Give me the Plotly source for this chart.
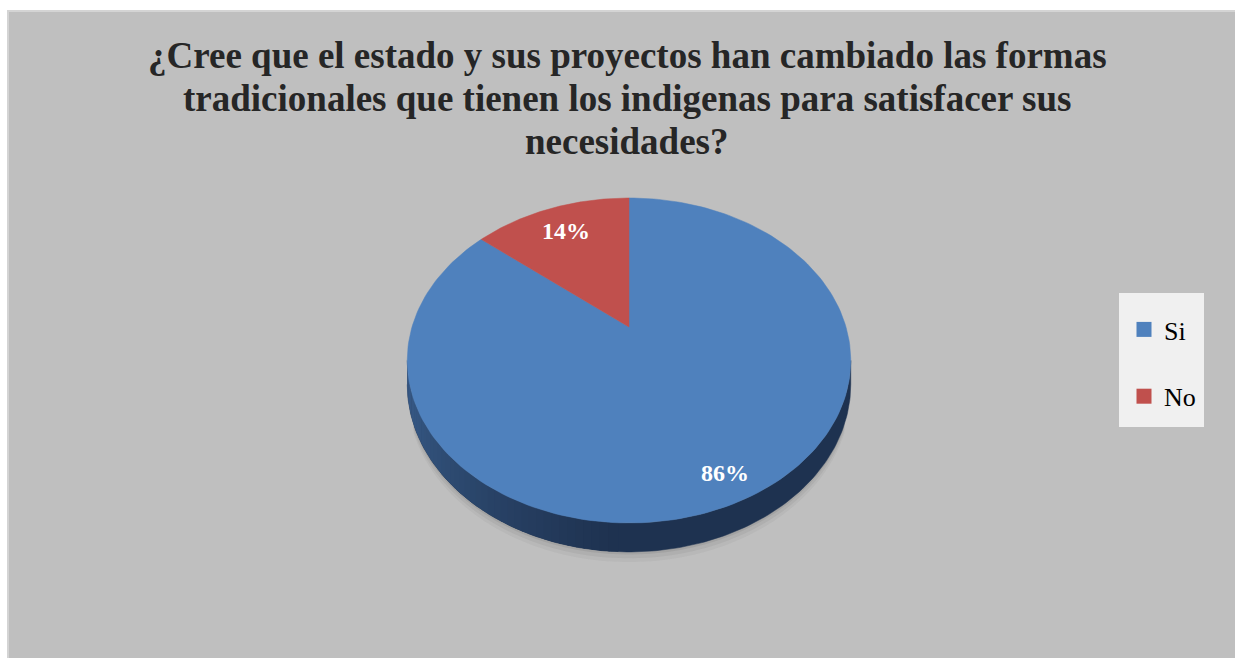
"""3D-style pie chart: ¿Cree que el estado ...?"""

import numpy as np
import plotly.graph_objects as go

# ---------------------------------------------------------------------------
# Data
# ---------------------------------------------------------------------------

LABELS = ["Si", "No"]
VALUES = [86, 14]
COLORS = ["#4f81bd", "#c0504d"]
SIDE_LIGHT = ["#3a5e8c", "#8a3a38"]
SIDE_DARK = ["#1e3250", "#5e2524"]

TITLE_LINES = [
    "¿Cree que el estado y sus proyectos han cambiado las formas",
    "tradicionales que tienen los indigenas para satisfacer sus",
    "necesidades?",
]

# ---------------------------------------------------------------------------
# Geometry (screen pixels, y grows downward)
# ---------------------------------------------------------------------------

W, H = 1235, 658
CX, CY = 629, 327  # projected centre of the pie
AX, BY = 217, 155.6  # horizontal / vertical radius scale
K = 0.206  # perspective strength
DEPTH = 23  # thickness of the pie
LABEL_R = {"Si": 0.87, "No": 0.78}
TITLE_Y = [55, 98, 141]
SERIF = "Liberation Serif, Times New Roman, serif"


def proj(phi_deg, r=1.0, dz=0.0):
    phi = np.radians(phi_deg)
    x = r * np.cos(phi)
    y = r * np.sin(phi)
    d = 1 + K * y
    return CX + AX * x / d, CY - BY * y / d + dz / d


def mix(c1, c2, t):
    a = [int(c1[i:i + 2], 16) for i in (1, 3, 5)]
    b = [int(c2[i:i + 2], 16) for i in (1, 3, 5)]
    return "rgb({},{},{})".format(*[round(a[j] + (b[j] - a[j]) * t) for j in range(3)])


fig = go.Figure()

# soft shadow under the pie front
for grow, alpha in [(8, 0.05), (5, 0.07), (2, 0.1)]:
    ang = np.linspace(205, 335, 100)
    sx, sy = proj(ang, 1.0, DEPTH + grow)
    fig.add_trace(go.Scatter(
        x=list(sx) + list(sx[::-1]), y=list(sy) + list(sy[::-1] - 40),
        fill="toself", mode="none", fillcolor=f"rgba(60,60,60,{alpha})",
        hoverinfo="skip", showlegend=False,
    ))

# slice angle ranges: start at 12 o'clock, go clockwise
total = sum(VALUES)
starts, ends = [], []
a = 90.0
for v in VALUES:
    starts.append(a)
    a -= 360 * v / total
    ends.append(a)

# side wall (visible front half between silhouette angles)
sil_l = 180 + np.degrees(np.arcsin(K))
sil_r = 360 - np.degrees(np.arcsin(K))
for i, lab in enumerate(LABELS):
    s, e = starts[i], ends[i]
    for shift in (0, 360, -360):
        lo, hi = max(e + shift, sil_l), min(s + shift, sil_r)
        if lo >= hi:
            continue
        # dark base wall
        arc = np.linspace(lo, hi, 150)
        tx, ty = proj(arc)
        bx, by = proj(arc[::-1], 1.0, DEPTH)
        fig.add_trace(go.Scatter(
            x=list(tx) + list(bx), y=list(ty) + list(by),
            fill="toself", mode="lines", fillcolor=SIDE_DARK[i],
            line=dict(color=SIDE_DARK[i], width=0.5),
            hoverinfo="skip", showlegend=False,
        ))
        # lighter gradient towards the left end
        edges = np.linspace(lo, hi, 90)
        for j in range(len(edges) - 1):
            a0, a1 = edges[j], edges[j + 1]
            t = (0.5 * (a0 + a1) - sil_l) / (sil_r - sil_l)
            if t > 0.48:
                continue
            arc = np.linspace(a0, a1 + 0.4, 4)
            tx, ty = proj(arc)
            bx, by = proj(arc[::-1], 1.0, DEPTH)
            col = mix(SIDE_LIGHT[i], SIDE_DARK[i], min(1.0, t * 2.1))
            fig.add_trace(go.Scatter(
                x=list(tx) + list(bx), y=list(ty) + list(by),
                fill="toself", mode="none", fillcolor=col,
                hoverinfo="skip", showlegend=False,
            ))

# top faces
for i, lab in enumerate(LABELS):
    arc = np.linspace(starts[i], ends[i], 200)
    ex, ey = proj(arc)
    fig.add_trace(go.Scatter(
        x=[CX] + list(ex) + [CX], y=[CY] + list(ey) + [CY],
        fill="toself", mode="lines", fillcolor=COLORS[i],
        line=dict(color=COLORS[i], width=0.5),
        name=lab, hoverinfo="name", showlegend=False,
    ))
    mid = 0.5 * (starts[i] + ends[i])
    lx, ly = proj(mid, LABEL_R[lab])
    fig.add_annotation(
        x=lx, y=ly, text=f"<b>{VALUES[i] / total:.0%}</b>", showarrow=False,
        font=dict(family=SERIF, size=24, color="white"),
    )

# title, one annotation per line
for line, ty in zip(TITLE_LINES, TITLE_Y):
    fig.add_annotation(
        x=627, y=ty, text=f"<b>{line}</b>", showarrow=False,
        font=dict(family=SERIF, size=37, color="#262626"),
    )

# legend entries
for i, lab in enumerate(LABELS):
    fig.add_trace(go.Scatter(
        x=[None], y=[None], mode="markers", name=lab, legendgroup=lab,
        marker=dict(symbol="square", size=15, color=COLORS[i]),
    ))

fig.update_layout(
    width=W,
    height=H,
    margin=dict(l=0, r=0, t=0, b=0),
    paper_bgcolor="#bfbfbf",
    plot_bgcolor="rgba(0,0,0,0)",
    xaxis=dict(range=[0, W], visible=False, fixedrange=True),
    yaxis=dict(range=[H, 0], visible=False, fixedrange=True),
    shapes=[
        # white page strip above / left of the chart area
        dict(type="rect", xref="x", yref="y", x0=-5, x1=W + 5, y0=-5, y1=10,
             fillcolor="white", line=dict(width=0), layer="below"),
        dict(type="rect", xref="x", yref="y", x0=-5, x1=7, y0=-5, y1=H + 5,
             fillcolor="white", line=dict(width=0), layer="below"),
        dict(type="rect", xref="x", yref="y", x0=8, x1=W + 5, y0=11, y1=H + 5,
             fillcolor="#bfbfbf", line=dict(color="#d4d4d4", width=2),
             layer="below"),
        dict(type="rect", xref="x", yref="y", x0=1119, x1=1204, y0=293, y1=427,
             fillcolor="#f0f0f0", line=dict(width=0), layer="below"),
    ],
    legend=dict(
        x=1124 / W, y=1 - 306 / H, xanchor="left", yanchor="top",
        bgcolor="rgba(0,0,0,0)", font=dict(family=SERIF, size=26, color="black"),
        tracegroupgap=30, itemclick=False, itemwidth=30,
    ),
    showlegend=True,
)

fig.write_html(
    "out.html",
    config={"displayModeBar": False},
    post_script=(
        "document.body.style.margin='0';"
        "document.body.style.overflow='hidden';"
        "document.documentElement.style.overflow='hidden';"
    ),
)
